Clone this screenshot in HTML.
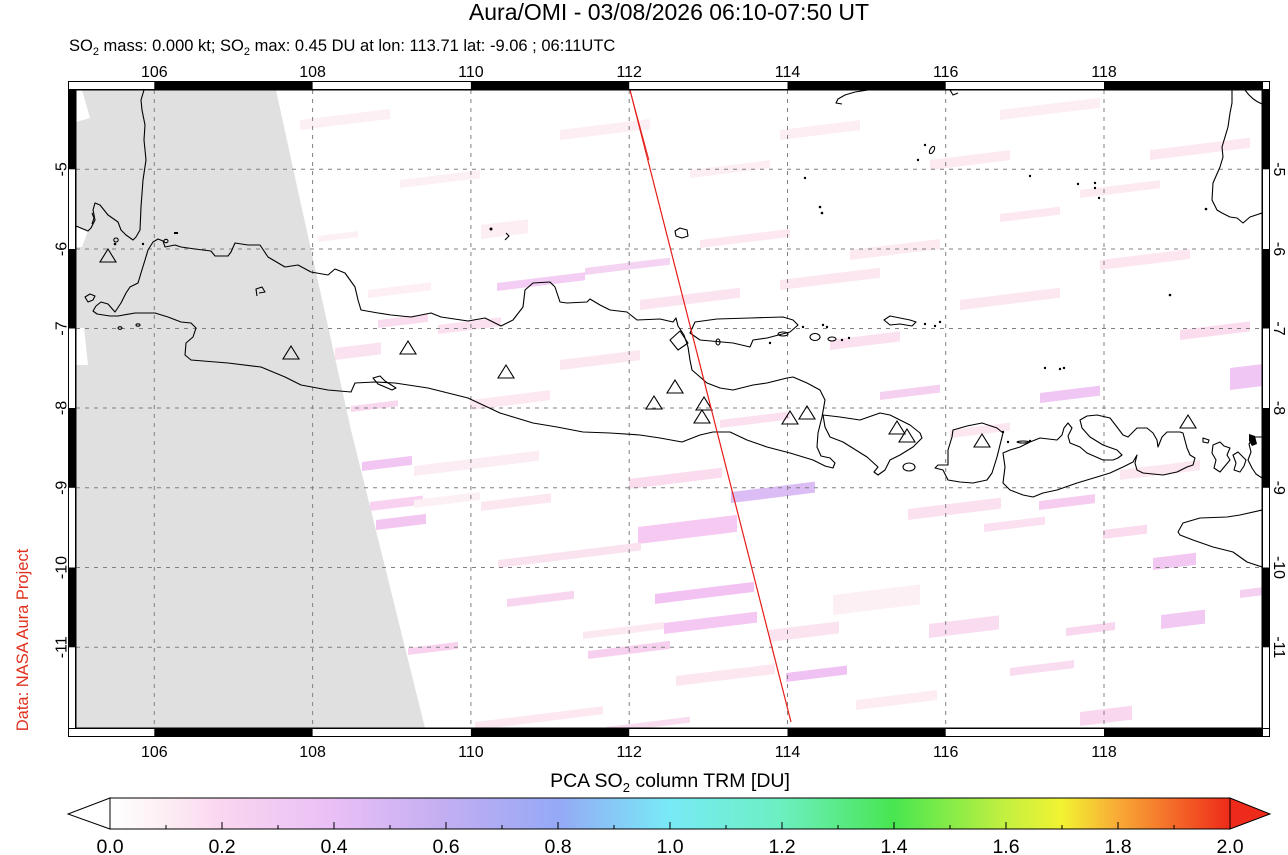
<!DOCTYPE html>
<html><head><meta charset="utf-8"><style>
html,body{margin:0;padding:0;background:#fff;}
svg{display:block;font-family:"Liberation Sans",Arial,sans-serif;}
</style></head><body>
<svg width="1288" height="855" viewBox="0 0 1288 855" xmlns="http://www.w3.org/2000/svg">
<defs>
<clipPath id="mc"><rect x="76" y="90" width="1186" height="638"/></clipPath>
<linearGradient id="cb" gradientUnits="userSpaceOnUse" x1="110" y1="0" x2="1230" y2="0">
<stop offset="0" stop-color="#ffffff"/>
<stop offset="0.05" stop-color="#fdeef3"/>
<stop offset="0.1" stop-color="#fad6f0"/>
<stop offset="0.2" stop-color="#e9bff6"/>
<stop offset="0.3" stop-color="#c2aef2"/>
<stop offset="0.4" stop-color="#95a9f6"/>
<stop offset="0.5" stop-color="#78eaf6"/>
<stop offset="0.6" stop-color="#6cefc0"/>
<stop offset="0.7" stop-color="#48e650"/>
<stop offset="0.8" stop-color="#c4f040"/>
<stop offset="0.85" stop-color="#f2f232"/>
<stop offset="0.9" stop-color="#f8aa36"/>
<stop offset="0.95" stop-color="#f46a28"/>
<stop offset="1" stop-color="#ee2a1a"/>
</linearGradient>
</defs>

<!-- Titles -->
<text x="669" y="20" font-size="23" text-anchor="middle" fill="#000">Aura/OMI - 03/08/2026 06:10-07:50 UT</text>
<text x="69" y="51" font-size="16.5" fill="#000">SO<tspan font-size="11" dy="4">2</tspan><tspan dy="-4"> mass: 0.000 kt; SO</tspan><tspan font-size="11" dy="4">2</tspan><tspan dy="-4"> max: 0.45 DU at lon: 113.71 lat: -9.06 ; 06:11UTC</tspan></text>

<!-- Frame -->
<rect x="68" y="81" width="1202" height="656" fill="#000"/>
<g fill="#fff">
<rect x="69" y="82" width="85.3" height="7"/>
<rect x="312.6" y="82" width="158.3" height="7"/>
<rect x="629.2" y="82" width="158.3" height="7"/>
<rect x="945.7" y="82" width="158.3" height="7"/>
<rect x="1263" y="82" width="6" height="7"/>
<rect x="69" y="729" width="85.3" height="7"/>
<rect x="312.6" y="729" width="158.3" height="7"/>
<rect x="629.2" y="729" width="158.3" height="7"/>
<rect x="945.7" y="729" width="158.3" height="7"/>
<rect x="1263" y="729" width="6" height="7"/>
<rect x="69" y="169.3" width="6" height="79.7"/>
<rect x="69" y="328.5" width="6" height="79.5"/>
<rect x="69" y="487.8" width="6" height="79.7"/>
<rect x="69" y="647.3" width="6" height="80.7"/>
<rect x="1263" y="169.3" width="6" height="79.7"/>
<rect x="1263" y="328.5" width="6" height="79.5"/>
<rect x="1263" y="487.8" width="6" height="79.7"/>
<rect x="1263" y="647.3" width="6" height="80.7"/>
</g>
<rect x="76" y="90" width="1186" height="638" fill="#fff"/>

<g clip-path="url(#mc)">
<!-- OMI pixel stripes -->
<g>
<rect transform="translate(362,462) skewY(-7)" width="50" height="9" fill="#f2c6f3"/>
<rect transform="translate(414,466) skewY(-7)" width="125" height="10" fill="#fcecf3"/>
<rect transform="translate(370,502) skewY(-7)" width="53" height="9" fill="#f8d2f0"/>
<rect transform="translate(376,520) skewY(-7)" width="50" height="10" fill="#f3c6f2"/>
<rect transform="translate(481,502) skewY(-7)" width="70" height="9" fill="#fce6f0"/>
<rect transform="translate(414,500) skewY(-7)" width="66" height="8" fill="#fdf0f4"/>
<rect transform="translate(629,479) skewY(-7)" width="93" height="10" fill="#fadcee"/>
<rect transform="translate(731,492) skewY(-7)" width="84" height="11" fill="#dcbcf5"/>
<rect transform="translate(638,527) skewY(-7)" width="99" height="17" fill="#f6c9f2"/>
<rect transform="translate(498,560) skewY(-7)" width="143" height="8" fill="#fbe2ef"/>
<rect transform="translate(655,594) skewY(-7)" width="99" height="10" fill="#f2c2f3"/>
<rect transform="translate(664,623) skewY(-7)" width="93" height="11" fill="#f4c8f3"/>
<rect transform="translate(507,599) skewY(-7)" width="67" height="8" fill="#f9d6ef"/>
<rect transform="translate(583,632) skewY(-7)" width="81" height="7" fill="#fce8f1"/>
<rect transform="translate(588,651) skewY(-7)" width="82" height="8" fill="#f8d0ef"/>
<rect transform="translate(408,648) skewY(-7)" width="50" height="7" fill="#f8d2ef"/>
<rect transform="translate(786,673) skewY(-7)" width="61" height="9" fill="#f0c2f3"/>
<rect transform="translate(769,630) skewY(-7)" width="70" height="12" fill="#fbe4f0"/>
<rect transform="translate(676,676) skewY(-7)" width="99" height="10" fill="#fce6f0"/>
<rect transform="translate(908,509) skewY(-7)" width="93" height="11" fill="#fbe0f0"/>
<rect transform="translate(1039,501) skewY(-7)" width="56" height="9" fill="#f6cdf0"/>
<rect transform="translate(984,524) skewY(-7)" width="61" height="8" fill="#fae0f0"/>
<rect transform="translate(1153,558) skewY(-7)" width="43" height="12" fill="#f2c8f2"/>
<rect transform="translate(1103,530) skewY(-7)" width="44" height="9" fill="#fbdcef"/>
<rect transform="translate(1161,615) skewY(-7)" width="44" height="14" fill="#f2c9f2"/>
<rect transform="translate(929,624) skewY(-7)" width="70" height="14" fill="#fadcf0"/>
<rect transform="translate(1066,628) skewY(-7)" width="49" height="8" fill="#f9d8ef"/>
<rect transform="translate(1010,668) skewY(-7)" width="64" height="8" fill="#fadcf0"/>
<rect transform="translate(1080,712) skewY(-7)" width="52" height="14" fill="#f9d8ef"/>
<rect transform="translate(1240,590) skewY(-7)" width="22" height="8" fill="#f6d0f0"/>
<rect transform="translate(475,722) skewY(-7)" width="128" height="8" fill="#fde8f1"/>
<rect transform="translate(606,727) skewY(-7)" width="84" height="6" fill="#fadcf0"/>
<rect transform="translate(833,595) skewY(-7)" width="87" height="20" fill="#fdf0f4"/>
<rect transform="translate(856,700) skewY(-7)" width="81" height="10" fill="#fdedf3"/>
<rect transform="translate(497,283) skewY(-7)" width="88" height="8" fill="#f3cdf3"/>
<rect transform="translate(585,268) skewY(-7)" width="85" height="7" fill="#f5d3f2"/>
<rect transform="translate(438,325) skewY(-7)" width="63" height="9" fill="#fbe0ef"/>
<rect transform="translate(378,320) skewY(-7)" width="50" height="8" fill="#fadcef"/>
<rect transform="translate(335,348) skewY(-7)" width="46" height="12" fill="#fbe2f0"/>
<rect transform="translate(351,406) skewY(-7)" width="47" height="6" fill="#f9d8ef"/>
<rect transform="translate(318,236) skewY(-7)" width="40" height="6" fill="#fdf0f4"/>
<rect transform="translate(368,290) skewY(-7)" width="63" height="8" fill="#fdeff3"/>
<rect transform="translate(481,225) skewY(-7)" width="47" height="14" fill="#fdeef3"/>
<rect transform="translate(880,392) skewY(-7)" width="60" height="8" fill="#f6d0f0"/>
<rect transform="translate(1040,393) skewY(-7)" width="60" height="10" fill="#efc6f4"/>
<rect transform="translate(1230,368) skewY(-7)" width="32" height="22" fill="#efc6f4"/>
<rect transform="translate(930,160) skewY(-7)" width="80" height="10" fill="#fdeaf1"/>
<rect transform="translate(1000,214) skewY(-7)" width="60" height="8" fill="#fde8f1"/>
<rect transform="translate(1080,190) skewY(-7)" width="80" height="8" fill="#fdeaf1"/>
<rect transform="translate(640,300) skewY(-7)" width="100" height="10" fill="#fbe4f0"/>
<rect transform="translate(700,240) skewY(-7)" width="90" height="8" fill="#fde8f1"/>
<rect transform="translate(780,280) skewY(-7)" width="100" height="10" fill="#fce6f0"/>
<rect transform="translate(560,130) skewY(-7)" width="90" height="10" fill="#fdeef3"/>
<rect transform="translate(690,170) skewY(-7)" width="80" height="8" fill="#fdeef3"/>
<rect transform="translate(850,250) skewY(-7)" width="90" height="10" fill="#fdeaf1"/>
<rect transform="translate(960,300) skewY(-7)" width="100" height="10" fill="#fce6f0"/>
<rect transform="translate(1150,150) skewY(-7)" width="100" height="10" fill="#fde8f1"/>
<rect transform="translate(1100,260) skewY(-7)" width="90" height="10" fill="#fde6f0"/>
<rect transform="translate(1180,330) skewY(-7)" width="70" height="10" fill="#fbdcef"/>
<rect transform="translate(400,180) skewY(-7)" width="80" height="8" fill="#fdf0f4"/>
<rect transform="translate(780,130) skewY(-7)" width="80" height="10" fill="#fdeef3"/>
<rect transform="translate(1000,110) skewY(-7)" width="100" height="10" fill="#fdeef3"/>
<rect transform="translate(830,340) skewY(-7)" width="70" height="10" fill="#fbe0ef"/>
<rect transform="translate(470,400) skewY(-7)" width="80" height="10" fill="#fde8f1"/>
<rect transform="translate(560,360) skewY(-7)" width="80" height="10" fill="#fce6f0"/>
<rect transform="translate(720,420) skewY(-7)" width="70" height="8" fill="#fbe0ef"/>
<rect transform="translate(950,430) skewY(-7)" width="60" height="8" fill="#fce6f0"/>
<rect transform="translate(300,120) skewY(-7)" width="90" height="10" fill="#fdf0f4"/>
<rect transform="translate(1120,470) skewY(-7)" width="80" height="10" fill="#fce6f0"/>
</g>

<!-- Gray no-data swath -->
<polygon points="82,90 276,90 300,200 351,430 425,728 76,728 76,122 90,118" fill="#e0e0e0"/>
<polygon points="76,226 88,231 82,247 76,247" fill="#fff"/>
<polygon points="76,328 84,328 88,365 76,365" fill="#fff"/>

<!-- Gridlines -->
<g stroke="#808080" stroke-width="1" stroke-dasharray="4 5" fill="none">
<line x1="154.3" y1="90" x2="154.3" y2="728"/>
<line x1="312.6" y1="90" x2="312.6" y2="728"/>
<line x1="470.9" y1="90" x2="470.9" y2="728"/>
<line x1="629.2" y1="90" x2="629.2" y2="728"/>
<line x1="787.5" y1="90" x2="787.5" y2="728"/>
<line x1="945.7" y1="90" x2="945.7" y2="728"/>
<line x1="1104" y1="90" x2="1104" y2="728"/>
<line x1="76" y1="169.3" x2="1262" y2="169.3"/>
<line x1="76" y1="249" x2="1262" y2="249"/>
<line x1="76" y1="328.5" x2="1262" y2="328.5"/>
<line x1="76" y1="408" x2="1262" y2="408"/>
<line x1="76" y1="487.8" x2="1262" y2="487.8"/>
<line x1="76" y1="567.5" x2="1262" y2="567.5"/>
<line x1="76" y1="647.3" x2="1262" y2="647.3"/>
</g>

<!-- Coastlines -->
<g stroke="#000" stroke-width="1.1" fill="none" stroke-linejoin="round">
<!-- Sumatra -->
<path d="M144,90 L141,100 L142,110 L145,125 L144,140 L146,160 L143,180 L141,207 L140,230 L136,237 L133,240 L126,235 L121,230 L118,222 L108,215 L100,205 L95,203 L93,210 L95,220 L91,228 L88,231 L76,226"/>
<!-- Java -->
<path d="M153,242 L158,239 L163,241 L165,247 L175,245 L181,247 L195,249 L211,251 L215,256 L228,256 L231,252 L235,243 L248,245 L260,245 L268,257 L285,267 L298,265 L311,272 L328,275 L335,269 L345,273 L355,287 L358,300 L361,310 L378,313 L391,315 L411,317 L431,313 L441,317 L468,321 L485,318 L501,326 L513,320 L523,307 L525,290 L533,283 L550,282 L555,287 L560,302 L567,303 L587,302 L590,299 L600,305 L610,310 L627,312 L637,320 L660,319 L673,322 L676,318 L678,326 L684,335 L688,347 L690,360 L692,370 L707,383 L720,388 L733,390 L753,385 L767,383 L787,378 L793,377 L807,383 L820,390 L825,400 L822,417 L818,433 L817,447 L821,456 L830,458 L835,463 L833,468 L825,466 L813,460 L790,453 L767,447 L747,440 L730,432 L713,432 L700,435 L682,442 L660,438 L640,435 L610,433 L583,432 L557,427 L533,423 L500,413 L468,398 L428,388 L395,383 L375,382 L355,383 L351,392 L328,390 L301,385 L285,377 L261,367 L228,363 L191,360 L185,355 L186,343 L193,337 L196,328 L191,323 L181,322 L168,317 L155,313 L135,313 L118,316 L110,316 L97,314 L93,311 L96,306 L101,302 L108,304 L115,312 L121,303 L126,293 L130,287 L138,283 L141,273 L145,260 L148,250 Z"/>
<!-- Madura -->
<path d="M690,333 L695,322 L717,319 L750,318 L783,317 L793,320 L798,325 L790,332 L767,338 L753,340 L750,347 L733,343 L700,340 Z"/>
<path d="M670,340 L680,331 L688,343 L678,350 Z"/>
<!-- Bali -->
<path d="M823,415 L840,417 L860,420 L880,413 L890,415 L910,425 L920,433 L922,438 L913,447 L900,455 L890,460 L885,470 L878,475 L874,472 L878,467 L867,457 L843,442 L830,437 L825,427 Z"/>
<ellipse cx="909" cy="467" rx="6" ry="4"/>
<!-- Lombok -->
<path d="M953,430 L967,426 L982,423 L997,428 L1003,433 L997,457 L992,473 L987,480 L973,483 L960,482 L948,480 L943,470 L935,468 L938,465 L948,465 L948,450 L952,437 Z"/>
<!-- Sumbawa -->
<path d="M1003,453 L1010,450 L1020,447 L1030,442 L1040,438 L1057,440 L1062,435 L1064,428 L1068,423 L1072,428 L1068,436 L1070,443 L1080,447 L1087,453 L1103,460 L1113,460 L1118,458 L1122,455 L1117,450 L1103,445 L1090,437 L1082,428 L1080,420 L1087,416 L1097,415 L1110,418 L1117,427 L1123,435 L1128,437 L1137,428 L1147,428 L1153,433 L1157,440 L1158,447 L1162,437 L1167,432 L1180,432 L1183,433 L1187,448 L1190,455 L1195,458 L1193,465 L1187,467 L1177,472 L1163,475 L1143,473 L1137,470 L1135,463 L1137,455 L1133,462 L1123,467 L1110,473 L1097,477 L1077,483 L1057,490 L1043,493 L1033,497 L1023,495 L1010,490 L1003,483 L1005,467 Z"/>
<!-- Komodo / Rinca / Flores -->
<path d="M1213,445 L1220,442 L1224,446 L1230,448 L1227,455 L1230,460 L1225,466 L1220,472 L1214,468 L1216,460 L1212,453 Z"/>
<path d="M1233,455 L1238,452 L1242,456 L1246,460 L1244,466 L1240,472 L1234,470 L1236,463 Z"/>
<path d="M1203,438 L1209,440 L1208,443 L1203,442 Z"/>
<path d="M1262,437 L1254,437 L1249,444 L1251,452 L1248,460 L1252,468 L1256,474 L1262,478"/>
<!-- Sumba -->
<path d="M1262,510 L1240,515 L1227,517 L1200,518 L1183,523 L1178,532 L1180,535 L1193,540 L1213,547 L1233,552 L1247,562 L1262,567"/>
<!-- Borneo -->
<path d="M1232,90 L1232,103 L1230,113 L1228,127 L1222,147 L1223,157 L1220,167 L1213,183 L1212,200 L1217,210 L1222,213 L1230,217 L1237,218 L1243,223 L1250,217 L1262,213"/>
<path d="M1245,90 Q1252,100 1262,104"/>
<path d="M868,90 L855,92 L845,95 L838,99 L836,103 L842,104"/>
<path d="M950,90 L953,95 L958,93"/>
<!-- small islands -->
<path d="M373,378 L380,376 L385,381 L396,388 L392,390 L378,384 Z"/>
<path d="M675,231 L680,228 L687,230 L688,236 L682,238 L676,236 Z"/>
<path d="M884,320 L890,316 L900,318 L910,320 L916,322 L912,326 L900,324 L890,325 Z"/>
<ellipse cx="783" cy="334" rx="5" ry="2"/>
<ellipse cx="815" cy="337" rx="5" ry="3.5"/>
<ellipse cx="832" cy="339" rx="4" ry="2"/>
<ellipse cx="718" cy="342" rx="2" ry="3"/>
<ellipse cx="932" cy="150" rx="2" ry="4" transform="rotate(30 932 150)"/>
<path d="M85,297 L90,294 L95,296 L93,300 L88,302 Z"/>
<ellipse cx="116" cy="240" rx="2.2" ry="2"/>
<ellipse cx="166" cy="241" rx="2" ry="1.7"/>
<ellipse cx="120" cy="328" rx="2" ry="1.3"/>
<ellipse cx="138" cy="325" rx="2" ry="1.2"/>
<path d="M257,296 L256,289 L262,287 L265,292 L259,293"/>
<path d="M506,233 L509,236 L505,240"/>
<path d="M92,213 L94,218 L92,224"/>
<ellipse cx="1023" cy="442" rx="6" ry="1"/>
<ellipse cx="909" cy="326" rx="0" ry="0"/>
</g>
<g fill="#000">
<circle cx="115" cy="244" r="1.3"/>
<circle cx="143" cy="244" r="1.2"/>
<rect x="174" y="232" width="4" height="2"/>
<circle cx="491" cy="229" r="1.5"/>
<circle cx="820" cy="207" r="1.3"/>
<circle cx="822" cy="213" r="1.3"/>
<circle cx="805" cy="178" r="1.2"/>
<circle cx="925" cy="145" r="1.2"/>
<circle cx="918" cy="160" r="1.2"/>
<circle cx="1030" cy="176" r="1.2"/>
<circle cx="1078" cy="184" r="1.2"/>
<circle cx="1095" cy="183" r="1.2"/>
<circle cx="1095" cy="188" r="1.2"/>
<circle cx="1099" cy="198" r="1.2"/>
<circle cx="1206" cy="209" r="1.3"/>
<circle cx="1170" cy="295" r="1.3"/>
<circle cx="1045" cy="368" r="1.2"/>
<circle cx="1060" cy="369" r="1.2"/>
<circle cx="1064" cy="368" r="1.2"/>
<circle cx="803" cy="327" r="1.2"/>
<circle cx="823" cy="325" r="1.2"/>
<circle cx="827" cy="327" r="1.2"/>
<circle cx="842" cy="340" r="1.2"/>
<circle cx="849" cy="338" r="1.2"/>
<circle cx="770" cy="343" r="1.2"/>
<circle cx="925" cy="324" r="1.2"/>
<circle cx="935" cy="326" r="1.2"/>
<circle cx="940" cy="322" r="1.2"/>
<circle cx="1003" cy="432" r="1.2"/>
<circle cx="1008" cy="442" r="1.2"/>
<circle cx="1030" cy="441" r="1.2"/>
<polygon points="1249,434 1255,436 1257,444 1252,446 1249,441"/>
</g>

<!-- Volcanoes -->
<g stroke="#000" stroke-width="1.1" fill="none">
<path d="M108,249 L116,262 L100,262 Z"/>
<path d="M291,346 L299,359 L283,359 Z"/>
<path d="M408,341 L416,354 L400,354 Z"/>
<path d="M506,365 L514,378 L498,378 Z"/>
<path d="M654,396 L662,409 L646,409 Z"/>
<path d="M675,380 L683,393 L667,393 Z"/>
<path d="M704,397 L712,410 L696,410 Z"/>
<path d="M702,410 L710,423 L694,423 Z"/>
<path d="M790,411 L798,424 L782,424 Z"/>
<path d="M807,406 L815,419 L799,419 Z"/>
<path d="M897,421 L905,434 L889,434 Z"/>
<path d="M907,429 L915,442 L899,442 Z"/>
<path d="M982,434 L990,447 L974,447 Z"/>
<path d="M1188,415 L1196,428 L1180,428 Z"/>
</g>

<!-- Red ground track -->
<path d="M630,90 L791,722" stroke="#e41e1a" stroke-width="1.2" fill="none"/>
<path d="M630,90 L649,160" stroke="#e41e1a" stroke-width="0.8" fill="none"/>
</g>
<rect x="76" y="90" width="1186" height="638" fill="none" stroke="#000" stroke-width="1"/>

<!-- Axis labels -->
<g font-size="16" text-anchor="middle" fill="#000">
<text x="154.3" y="77">106</text>
<text x="312.6" y="77">108</text>
<text x="470.9" y="77">110</text>
<text x="629.2" y="77">112</text>
<text x="787.5" y="77">114</text>
<text x="945.7" y="77">116</text>
<text x="1104" y="77">118</text>
<text x="154.3" y="757">106</text>
<text x="312.6" y="757">108</text>
<text x="470.9" y="757">110</text>
<text x="629.2" y="757">112</text>
<text x="787.5" y="757">114</text>
<text x="945.7" y="757">116</text>
<text x="1104" y="757">118</text>
<text transform="translate(66.5,169.3) rotate(-90)">-5</text>
<text transform="translate(66.5,249) rotate(-90)">-6</text>
<text transform="translate(66.5,328.5) rotate(-90)">-7</text>
<text transform="translate(66.5,408) rotate(-90)">-8</text>
<text transform="translate(66.5,487.8) rotate(-90)">-9</text>
<text transform="translate(66.5,567.5) rotate(-90)">-10</text>
<text transform="translate(66.5,647.3) rotate(-90)">-11</text>
<text transform="translate(1274,169.3) rotate(90)">-5</text>
<text transform="translate(1274,249) rotate(90)">-6</text>
<text transform="translate(1274,328.5) rotate(90)">-7</text>
<text transform="translate(1274,408) rotate(90)">-8</text>
<text transform="translate(1274,487.8) rotate(90)">-9</text>
<text transform="translate(1274,567.5) rotate(90)">-10</text>
<text transform="translate(1274,647.3) rotate(90)">-11</text>
</g>
<text transform="translate(28,640) rotate(-90)" font-size="16.5" text-anchor="middle" fill="#e0301e">Data: NASA Aura Project</text>

<!-- Colorbar -->
<text x="670" y="787" font-size="19.5" text-anchor="middle" fill="#000">PCA SO<tspan font-size="13" dy="5">2</tspan><tspan dy="-5"> column TRM [DU]</tspan></text>
<polygon points="110,798 68,814 110,829" fill="#fff" stroke="#000" stroke-width="1"/>
<polygon points="1230,798 1270,814 1230,829" fill="#ee2a1a" stroke="#000" stroke-width="1"/>
<rect x="110" y="798" width="1120" height="31" fill="url(#cb)" stroke="#000" stroke-width="1"/>
<g stroke="#000" stroke-width="1">
<line x1="166" y1="829" x2="166" y2="825"/>
<line x1="222" y1="829" x2="222" y2="822"/>
<line x1="278" y1="829" x2="278" y2="825"/>
<line x1="334" y1="829" x2="334" y2="822"/>
<line x1="390" y1="829" x2="390" y2="825"/>
<line x1="446" y1="829" x2="446" y2="822"/>
<line x1="502" y1="829" x2="502" y2="825"/>
<line x1="558" y1="829" x2="558" y2="822"/>
<line x1="614" y1="829" x2="614" y2="825"/>
<line x1="670" y1="829" x2="670" y2="822"/>
<line x1="726" y1="829" x2="726" y2="825"/>
<line x1="782" y1="829" x2="782" y2="822"/>
<line x1="838" y1="829" x2="838" y2="825"/>
<line x1="894" y1="829" x2="894" y2="822"/>
<line x1="950" y1="829" x2="950" y2="825"/>
<line x1="1006" y1="829" x2="1006" y2="822"/>
<line x1="1062" y1="829" x2="1062" y2="825"/>
<line x1="1118" y1="829" x2="1118" y2="822"/>
<line x1="1174" y1="829" x2="1174" y2="825"/>
</g>
<g font-size="19.5" text-anchor="middle" fill="#000">
<text x="110" y="853">0.0</text>
<text x="222" y="853">0.2</text>
<text x="334" y="853">0.4</text>
<text x="446" y="853">0.6</text>
<text x="558" y="853">0.8</text>
<text x="670" y="853">1.0</text>
<text x="782" y="853">1.2</text>
<text x="894" y="853">1.4</text>
<text x="1006" y="853">1.6</text>
<text x="1118" y="853">1.8</text>
<text x="1230" y="853">2.0</text>
</g>
</svg>
</body></html>
